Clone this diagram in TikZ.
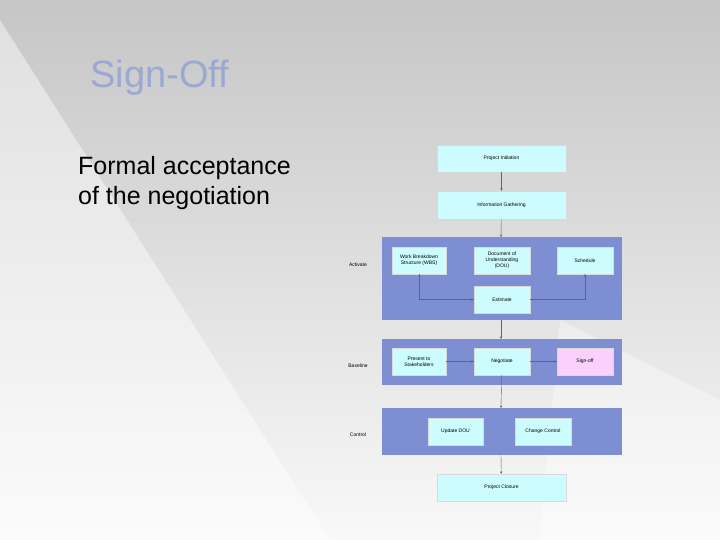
\documentclass[tikz,border=0pt]{standalone}
\usepackage{fontspec}
\setmainfont{Liberation Sans}
\usetikzlibrary{arrows.meta}
\definecolor{band}{HTML}{7D8ED2}
\definecolor{boxc}{HTML}{CCFCFD}
\definecolor{pinkc}{HTML}{FBD0FB}
\definecolor{titlec}{HTML}{9AA8D4}
\tikzset{
 flow/.style={draw=white!70!gray,fill=boxc,line width=0.4pt,font=\fontsize{5}{6}\selectfont,align=center,inner sep=0pt},
 bandbox/.style={fill=band,draw=none},
 lab/.style={font=\fontsize{5}{6}\selectfont},
 conn/.style={draw=gray!80!black,line width=0.4pt,-{Stealth[length=2.5pt,width=2.5pt]}}
}
\begin{document}
\begin{tikzpicture}[x=1pt,y=-1pt]
\useasboundingbox (0,0) rectangle (720,540);
\shade[top color=gray!45,bottom color=white!95!gray] (0,0) rectangle (720,540);
\fill[white,opacity=0.45] (0,20) -- (330,540) -- (0,540) -- cycle;
\fill[white,opacity=0.35] (560,320) -- (720,400) -- (720,540) -- (540,540) -- cycle;
\node[font=\fontsize{38}{40}\selectfont,text=titlec] (title) at (160,78) {Sign-Off};
\node[anchor=west,font=\fontsize{25}{30}\selectfont,align=left,inner sep=0pt] (body) at (78,183) {Formal acceptance\\of the negotiation};
% bands
\path[bandbox] (382,237) rectangle (622,320);
\path[bandbox] (382,339) rectangle (622,385);
\path[bandbox] (382,408) rectangle (622,455);
\coordinate (b1t) at (501,237); \coordinate (b1b) at (501,320);
\coordinate (b2t) at (501,339);
\coordinate (b3t) at (501,408); \coordinate (b3b) at (501,455);
\node[lab] (la) at (358,265) {Activate};
\node[lab] (lb) at (358,366) {Baseline};
\node[lab] (lc) at (358,435) {Control};
\node[flow,minimum width=129,minimum height=27] (pi) at (501.5,158.5) {Project Initiation};
\node[flow,minimum width=129,minimum height=28] (ig) at (501.5,205) {Information Gathering};
\node[flow,minimum width=54,minimum height=27] (wbs) at (419,260.5) {Work Breakdown\\Structure (WBS)};
\node[flow,minimum width=56,minimum height=27] (dou) at (502,260.5) {Document of\\Understanding\\(DOU)};
\node[flow,minimum width=56,minimum height=27] (sch) at (585,260.5) {Schedule};
\node[flow,minimum width=56,minimum height=27] (est) at (502,299.5) {Estimate};
\node[flow,minimum width=54,minimum height=27] (pres) at (419,361.5) {Present to\\Stakeholders};
\node[flow,minimum width=56,minimum height=27] (neg) at (502,361.5) {Negotiate};
\node[flow,fill=pinkc,minimum width=56,minimum height=27] (so) at (585,361.5) {Sign-off};
\node[flow,minimum width=55,minimum height=27] (udou) at (455.5,431.5) {Update DOU};
\node[flow,minimum width=56,minimum height=27] (cc) at (543,431.5) {Change Control};
\node[flow,minimum width=129,minimum height=27] (pc) at (501.5,487.5) {Project Closure};
\draw[conn] (pi) -- (ig);
\draw[conn] (ig) -- (b1t);
\draw[conn] (wbs) |- (est);
\draw[conn] (est) -| (sch);
\draw[conn] (b1b) -- (b2t);
\draw[conn] (pres) -- (neg);
\draw[conn] (neg) -- (so);
\draw[conn] (neg) -- (b3t);
\draw[conn] (b3b) -- (pc);
\end{tikzpicture}
\end{document}
